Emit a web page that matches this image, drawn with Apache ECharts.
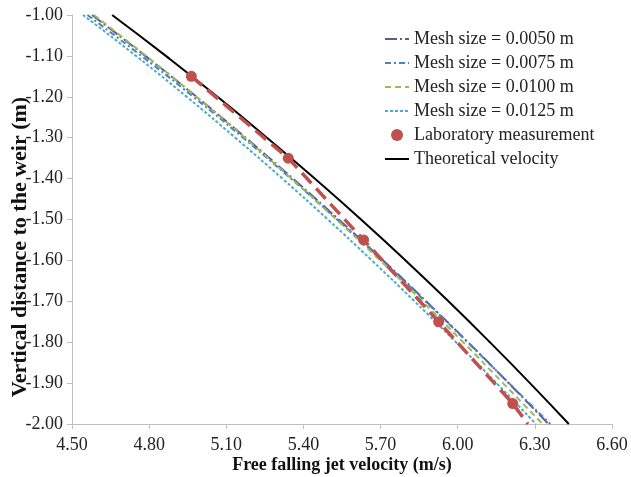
<!DOCTYPE html>
<html>
<head>
<meta charset="utf-8">
<script src="https://cdn.jsdelivr.net/npm/echarts@6/dist/echarts.min.js"></script>
<style>html,body{margin:0;padding:0;background:#fff;}#c{width:631px;height:477px;}</style>
</head>
<body>
<div id="c"></div>
<script>
// Vertical distance (m) at which simulated/theoretical velocities are read
const depths = [-1.0, -1.1, -1.2, -1.3, -1.4, -1.5, -1.6, -1.7, -1.8, -1.9, -2.0];
const mesh0050 = [4.578, 4.785, 4.984, 5.175, 5.359, 5.537, 5.710, 5.877, 6.040, 6.198, 6.353];
const mesh0075 = [4.560, 4.770, 4.972, 5.165, 5.351, 5.531, 5.705, 5.874, 6.038, 6.199, 6.360];
const mesh0100 = [4.585, 4.788, 4.984, 5.172, 5.353, 5.528, 5.698, 5.862, 6.021, 6.176, 6.330];
const mesh0125 = [4.543, 4.749, 4.946, 5.135, 5.318, 5.495, 5.666, 5.832, 5.993, 6.151, 6.304];
const theoretical = [4.656, 4.865, 5.066, 5.258, 5.444, 5.624, 5.797, 5.964, 6.125, 6.281, 6.432];
// Laboratory measurements
const labDepths = [-1.15, -1.35, -1.55, -1.75, -1.95];
const labVel = [4.964, 5.341, 5.634, 5.926, 6.214];
// Red dashed trend through the measurements
const labLineDepths = [-1.15, -1.35, -1.55, -1.75, -1.95, -2.0];
const labLineVel = [4.964, 5.341, 5.634, 5.926, 6.214, 6.273];
const seriesNames = ['Mesh size = 0.0050 m', 'Mesh size = 0.0075 m', 'Mesh size = 0.0100 m', 'Mesh size = 0.0125 m', 'Laboratory measurement', 'Theoretical velocity'];
const xTicks = {min: 4.5, max: 6.6, step: 0.3};
const yTicks = {min: -2.0, max: -1.0, step: 0.1};

const pair = (xs, ys) => xs.map((x, i) => [x, ys[i]]);
const font = '"Liberation Serif", "Times New Roman", serif';

function lineSeries(name, vals, color, dash, width) {
  return {
    name: name, type: 'line', data: pair(vals, depths), symbol: 'none', smooth: true,
    lineStyle: {color: color, type: dash, width: width || 2},
    itemStyle: {color: color}, z: 2
  };
}

const chart = echarts.init(document.getElementById('c'), null, {renderer: 'canvas'});
chart.setOption({
  animation: false,
  backgroundColor: '#ffffff',
  textStyle: {fontFamily: font},
  grid: {left: 72, right: 19, top: 15, bottom: 53, containLabel: false, outerBoundsMode: 'none'},
  legend: {
    orient: 'vertical', left: 379, top: 25, itemWidth: 24, itemHeight: 12, itemGap: 6,
    data: seriesNames.map(n => n === 'Laboratory measurement'
      ? {name: n, icon: 'circle', itemStyle: {color: '#c0504d', opacity: 1}}
      : {name: n, itemStyle: {opacity: 0}}),
    textStyle: {fontFamily: font, fontSize: 18, color: '#222'}
  },
  xAxis: {
    type: 'value', min: xTicks.min, max: xTicks.max, interval: xTicks.step,
    name: 'Free falling jet velocity (m/s)', nameLocation: 'middle', nameGap: 32, nameMoveOverlap: false,
    nameTextStyle: {fontFamily: font, fontSize: 18, fontWeight: 'bold', color: '#111'},
    axisLine: {lineStyle: {color: '#bfbfbf', width: 1}},
    axisTick: {show: true, length: 5, lineStyle: {color: '#bfbfbf'}},
    axisLabel: {fontFamily: font, fontSize: 18, color: '#222', margin: 12, formatter: v => v.toFixed(2)},
    splitLine: {show: false}
  },
  yAxis: {
    type: 'value', min: yTicks.min, max: yTicks.max, interval: yTicks.step,
    name: 'Vertical distance to the weir (m)', nameLocation: 'middle', nameGap: 41, nameMoveOverlap: false,
    nameTextStyle: {fontFamily: font, fontSize: 22, fontWeight: 'bold', color: '#111', padding: [0, 55, 0, 0]},
    axisLine: {show: true, lineStyle: {color: '#bfbfbf', width: 1}},
    axisTick: {show: true, length: 5, lineStyle: {color: '#bfbfbf'}},
    axisLabel: {fontFamily: font, fontSize: 18, color: '#222', margin: 9, formatter: v => v.toFixed(2)},
    splitLine: {show: false}
  },
  series: [
    lineSeries(seriesNames[0], mesh0050, '#5b5b9b', [12, 3, 2, 3]),
    lineSeries(seriesNames[1], mesh0075, '#4f81bd', [6, 3, 2, 3]),
    lineSeries(seriesNames[2], mesh0100, '#9bbb59', [6, 4]),
    lineSeries(seriesNames[3], mesh0125, '#4bacc6', [3, 2]),
    {
      name: 'lab trend', type: 'line', data: pair(labLineVel, labLineDepths), symbol: 'none',
      lineStyle: {color: '#c0504d', type: [14, 7], width: 3.5}, z: 3
    },
    {
      name: seriesNames[4], type: 'scatter', data: pair(labVel, labDepths), symbol: 'circle', symbolSize: 11,
      itemStyle: {color: '#c0504d', opacity: 1}, z: 4
    },
    lineSeries(seriesNames[5], theoretical, '#000000', 'solid', 2)
  ]
});
</script>
</body>
</html>
